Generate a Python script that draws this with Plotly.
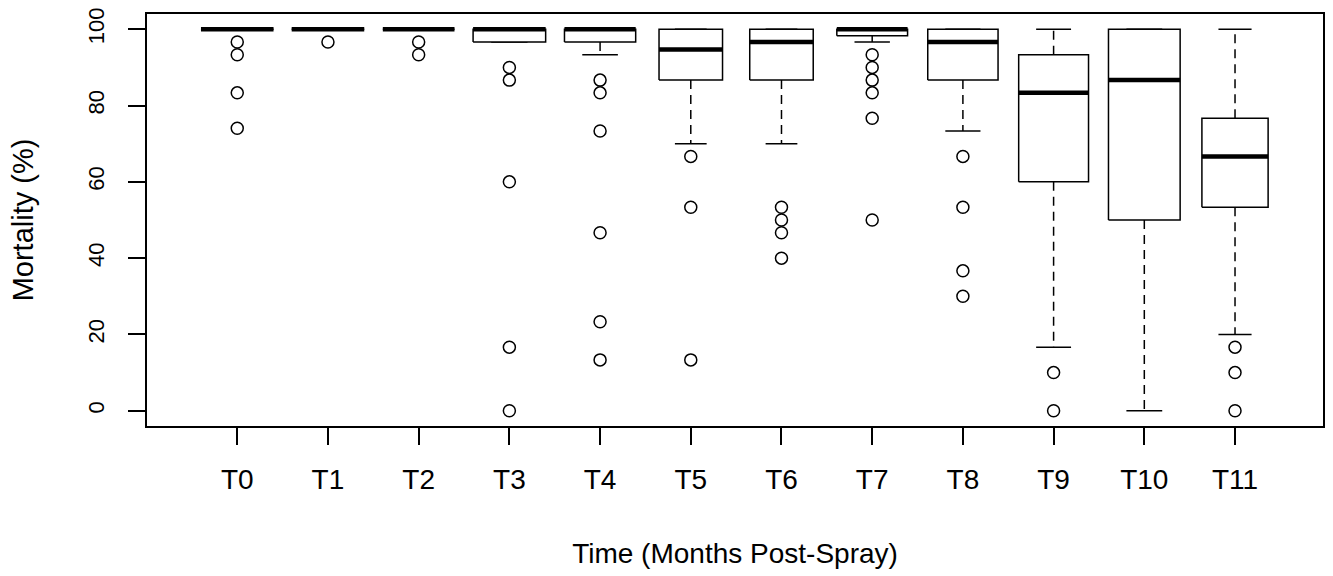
import plotly.graph_objects as go

categories = ["T0", "T1", "T2", "T3", "T4", "T5", "T6", "T7", "T8", "T9", "T10", "T11"]
lower_whisker = [100, 100, 100, 96.67, 93.33, 70, 70, 96.67, 73.33, 16.67, 0, 20]
q1 = [100, 100, 100, 96.67, 96.67, 86.67, 86.67, 98.33, 86.67, 60, 50, 53.33]
median = [100, 100, 100, 100, 100, 94.7, 96.67, 100, 96.67, 83.33, 86.67, 66.67]
q3 = [100, 100, 100, 100, 100, 100, 100, 100, 100, 93.33, 100, 76.67]
upper_whisker = [100, 100, 100, 100, 100, 100, 100, 100, 100, 100, 100, 100]
outliers = [
    [96.67, 93.33, 83.33, 74.07],
    [96.67],
    [96.67, 93.33],
    [90, 86.67, 60, 16.67, 0],
    [86.67, 83.33, 73.33, 46.67, 23.33, 13.33],
    [66.67, 53.33, 13.33],
    [53.33, 50, 46.67, 40],
    [93.33, 90, 86.67, 83.33, 76.67, 50],
    [66.67, 53.33, 36.67, 30],
    [10, 0],
    [],
    [16.67, 10, 0],
]
box_widths = [0.8, 0.8, 0.79, 0.8, 0.785, 0.70, 0.70, 0.78, 0.775, 0.77, 0.79, 0.73]

x_title = "Time (Months Post-Spray)"
y_title = "Mortality (%)"

positions = list(range(1, len(categories) + 1))

box_x, box_y = [], []
med_x, med_y = [], []
wh_x, wh_y = [], []
cap_x, cap_y = [], []
out_x, out_y = [], []
for i, pos in enumerate(positions):
    hw = box_widths[i] / 2
    cw = hw / 2
    box_x += [pos - hw, pos + hw, pos + hw, pos - hw, pos - hw, None]
    box_y += [q1[i], q1[i], q3[i], q3[i], q1[i], None]
    med_x += [pos - hw, pos + hw, None]
    med_y += [median[i], median[i], None]
    wh_x += [pos, pos, None, pos, pos, None]
    wh_y += [q3[i], upper_whisker[i], None, q1[i], lower_whisker[i], None]
    cap_x += [pos - cw, pos + cw, None, pos - cw, pos + cw, None]
    cap_y += [upper_whisker[i], upper_whisker[i], None, lower_whisker[i], lower_whisker[i], None]
    for v in outliers[i]:
        out_x.append(pos)
        out_y.append(v)

fig = go.Figure()
fig.add_trace(go.Scatter(x=wh_x, y=wh_y, mode="lines",
                         line=dict(color="black", width=1.5, dash="9px,6px"),
                         showlegend=False, hoverinfo="skip"))
fig.add_trace(go.Scatter(x=cap_x, y=cap_y, mode="lines",
                         line=dict(color="black", width=1.5),
                         showlegend=False, hoverinfo="skip"))
fig.add_trace(go.Scatter(x=box_x, y=box_y, mode="lines",
                         line=dict(color="black", width=1.5),
                         fill="toself", fillcolor="white",
                         showlegend=False, hoverinfo="skip"))
fig.add_trace(go.Scatter(x=med_x, y=med_y, mode="lines",
                         line=dict(color="black", width=4.5),
                         showlegend=False, hoverinfo="skip"))
fig.add_trace(go.Scatter(x=out_x, y=out_y, mode="markers",
                         marker=dict(symbol="circle-open", size=12, color="black",
                                     line=dict(width=1.5, color="black")),
                         showlegend=False))

font_family = "Liberation Sans, Arial, sans-serif"

fig.update_layout(
    width=1333, height=576,
    margin=dict(l=147, r=8, t=14, b=150),
    plot_bgcolor="white", paper_bgcolor="white",
    font=dict(family=font_family, color="black"),
    xaxis=dict(
        range=[0.005, 12.97], tickmode="array", tickvals=positions, ticktext=categories,
        showgrid=False, zeroline=False, showline=True, mirror=True,
        linecolor="black", linewidth=1.5,
        ticks="outside", ticklen=17, tickwidth=1.5, tickcolor="black",
        tickfont=dict(size=28, color="black"), ticklabelstandoff=11,
        title=dict(text=x_title, font=dict(size=28, color="black"), standoff=49),
    ),
    yaxis=dict(
        range=[-4, 104], tickmode="array", tickvals=[0, 20, 40, 60, 80, 100],
        showgrid=False, zeroline=False, showline=True, mirror=True,
        linecolor="black", linewidth=1.5,
        ticks="outside", ticklen=17, tickwidth=1.5, tickcolor="black",
        tickangle=-90, tickfont=dict(size=22, color="black"), ticklabelstandoff=15,
        title=dict(text=y_title, font=dict(size=29, color="black"), standoff=42),
    ),
)

fig.write_html("out.html", config={"displayModeBar": False},
               post_script="document.body.style.margin='0';")
